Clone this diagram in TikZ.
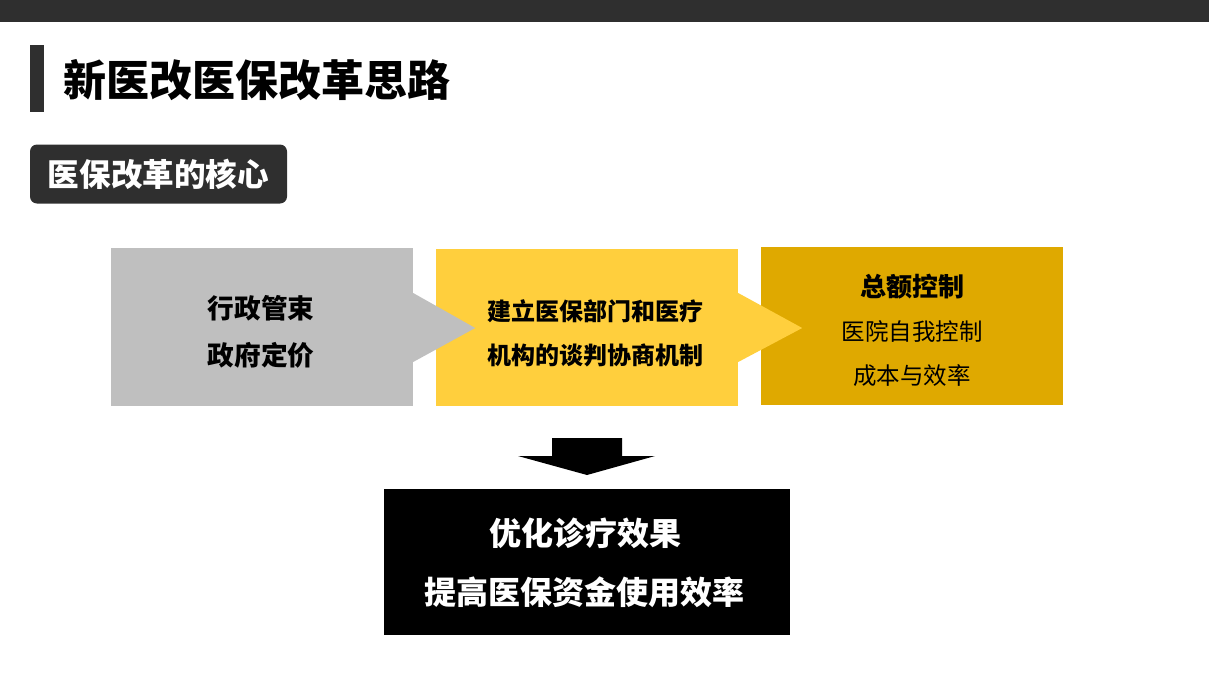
\documentclass[tikz,border=0pt]{standalone}
\usepackage{fontspec}
\setmainfont{Noto Sans CJK SC}
\definecolor{darkbar}{HTML}{2F2F2F}
\definecolor{boxgray}{HTML}{BFBFBF}
\definecolor{boxyellow}{HTML}{FFCF3D}
\definecolor{boxgold}{HTML}{DFA900}
\tikzset{
  panel/.style={draw=none, inner sep=0pt, minimum width=302pt, minimum height=158pt},
  txt/.style={inner sep=0pt, anchor=center},
  fs/.style={font=\fontsize{#1}{#1}\selectfont},
  fsb/.style={font=\fontsize{#1}{#1}\selectfont\bfseries},
}
\begin{document}
\begin{tikzpicture}[x=1pt,y=-1pt]
\useasboundingbox (0,0) rectangle (1209,680);
% top bar
\fill[darkbar] (0,0) rectangle (1209,22);
% title
\fill[darkbar] (30,45) rectangle (44,112);
\node[txt, anchor=west, fsb=43] (title) at (63,80) {新医改医保改革思路};
% subtitle
\node[fill=darkbar, rounded corners=7pt, minimum width=257pt, minimum height=59pt, inner sep=0pt,
      text=white, fsb=31.6] (sub) at (158.5,174) {医保改革的核心};
% panels
\node[panel, fill=boxgray] (g) at (262,327) {};
\node[panel, fill=boxyellow, minimum height=157pt] (y) at (587,327.5) {};
\node[panel, fill=boxgold] (d) at (912,326) {};
\node[fill=black, inner sep=0pt, minimum width=406pt, minimum height=146pt] (b) at (587,562) {};
% chevrons
\fill[boxgray] (g.east) ++(0,-34) -- ++(62,35) -- ++(-62,34) -- cycle;
\fill[boxyellow] (y.east) ++(0,-34.5) -- ++(64,35) -- ++(-64,34) -- cycle;
% down arrow
\coordinate (arr) at (587,438);
\fill[black] (arr) ++(-35,0) -- ++(70,0) -- ++(0,18) -- ++(33,0) -- ++(-68,19) -- ++(-69,-19) -- ++(34,0) -- cycle;
% texts
\node[txt, fsb=26.7] (g1) at (261,308.5) {行政管束};
\node[txt, fsb=26.7] (g2) at (261,355.5) {政府定价};
\node[txt, fsb=24] (y1) at (595,311.5) {建立医保部门和医疗};
\node[txt, fsb=24] (y2) at (595,355.5) {机构的谈判协商机制};
\node[txt, fsb=26] (d1) at (912,286.5) {总额控制};
\node[txt, fs=23.5] (d2) at (912,331.5) {医院自我控制};
\node[txt, fs=23.5] (d3) at (912,375.5) {成本与效率};
\node[txt, fsb=32, text=white] (b1) at (585,533.5) {优化诊疗效果};
\node[txt, fsb=32, text=white] (b2) at (584,592.5) {提高医保资金使用效率};
\end{tikzpicture}
\end{document}
